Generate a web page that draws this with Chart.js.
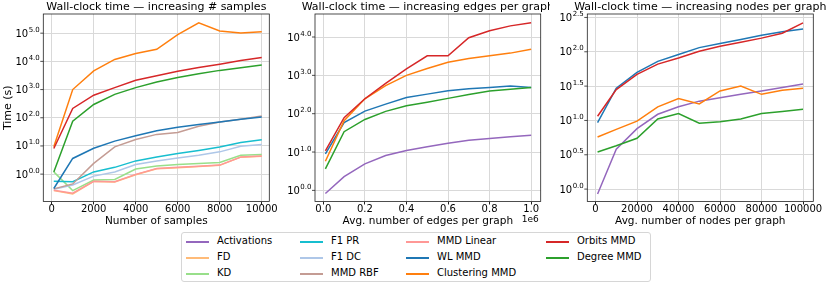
<!DOCTYPE html>
<html>
<head>
<meta charset="utf-8">
<script src="https://cdn.jsdelivr.net/npm/chart.js@4/dist/chart.umd.min.js"></script>
<style>
  html, body { margin: 0; padding: 0; background: #fff; }
  body { width: 830px; height: 287px; position: relative; overflow: hidden; font-family: "DejaVu Sans", sans-serif; }
  canvas { position: absolute; top: 0; }
  #legend { position: absolute; left: 181px; top: 232px; width: 470px; height: 50px; box-sizing: border-box;
            border: 1px solid #d6d6d6; border-radius: 3px; background: #fff; }
  .item { position: absolute; font-size: 10px; color: #000; white-space: nowrap; }
  .swatch { position: absolute; width: 23px; height: 2px; }
</style>
</head>
<body>
<canvas id="c1" width="280" height="230" style="left:0px"></canvas>
<canvas id="c2" width="278" height="230" style="left:272px"></canvas>
<canvas id="c3" width="285" height="230" style="left:545px"></canvas>
<div id="legend"></div>
<script>
// Series names and colours (legend order)
const seriesNames = ['Activations', 'FD', 'KD', 'F1 PR', 'F1 DC', 'MMD RBF', 'MMD Linear',
                     'WL MMD', 'Clustering MMD', 'Orbits MMD', 'Degree MMD'];
const seriesColors = ['#9467bd', '#ffbb78', '#98df8a', '#17becf', '#aec7e8', '#c49c94', '#ff9896',
                      '#1f77b4', '#ff7f0e', '#d62728', '#2ca02c'];

// Panel 1: increasing # samples (time in seconds)
const samplesX = [100, 1000, 2000, 3000, 4000, 5000, 6000, 7000, 8000, 9000, 10000];
const samplesFD = [0.26, 0.20, 0.55, 0.53, 0.95, 1.55, 1.70, 1.88, 2.05, 4.0, 4.3];
const samplesKD = [1.2, 0.26, 0.62, 0.65, 1.51, 1.95, 2.19, 2.40, 2.57, 4.68, 5.01];
const samplesF1PR = [0.56, 0.54, 1.2, 1.74, 2.95, 4.07, 5.37, 6.92, 9.12, 13.2, 16.6];
const samplesF1DC = [0.29, 0.41, 0.85, 1.2, 2.19, 2.95, 3.72, 4.68, 6.17, 9.77, 11.2];
const samplesRBF = [0.30, 0.45, 2.4, 9.3, 17.0, 25.7, 30.2, 50.1, 70.8, 89.1, 115];
const samplesLinear = [0.27, 0.21, 0.56, 0.54, 0.98, 1.58, 1.74, 1.91, 2.09, 4.07, 4.37];
const samplesWL = [0.31, 3.6, 8.3, 14.8, 22.9, 34.7, 45.7, 57.5, 70.8, 89.1, 107];
const samplesClustering = [9.3, 1000, 4570, 11700, 19000, 26900, 89000, 234000, 120000, 102000, 112000];
const samplesOrbits = [8.1, 214, 631, 1170, 2140, 3090, 4470, 6030, 7940, 10700, 13800];
const samplesDegree = [1.2, 76, 295, 676, 1170, 1860, 2690, 3630, 4790, 5890, 7410];

// Panel 2: increasing edges per graph
const edgesX = [0.01e6, 0.1e6, 0.2e6, 0.3e6, 0.4e6, 0.5e6, 0.6e6, 0.7e6, 0.8e6, 0.9e6, 1.0e6];
const edgesActivations = [0.83, 2.29, 4.9, 8.1, 11.0, 13.8, 17.0, 20.4, 22.4, 25.1, 27.5];
const edgesWL = [8.9, 58.9, 117, 178, 263, 324, 398, 447, 479, 525, 479];
const edgesClustering = [5.75, 66, 245, 537, 1000, 1510, 2190, 2750, 3240, 3800, 4790];
const edgesOrbits = [10.7, 79, 245, 617, 1480, 3240, 3240, 9550, 14500, 19500, 23400];
const edgesDegree = [3.63, 33.9, 70.8, 115, 162, 200, 251, 316, 389, 437, 479];

// Panel 3: increasing nodes per graph
const nodesX = [1000, 10000, 20000, 30000, 40000, 50000, 60000, 70000, 80000, 90000, 100000];
const nodesActivations = [0.85, 3.8, 7.59, 12.3, 15.8, 19.1, 21.4, 24.0, 26.9, 30.2, 33.9];
const nodesWL = [9.3, 29.5, 50.1, 72.4, 91.2, 115, 132, 151, 174, 195, 214];
const nodesClustering = [5.75, 7.41, 9.77, 15.8, 20.9, 17.4, 26.9, 31.6, 24.0, 27.5, 29.5];
const nodesOrbits = [11.5, 28.2, 46.8, 66.1, 81.3, 102, 120, 138, 158, 186, 263];
const nodesDegree = [3.47, 4.27, 5.5, 10.5, 12.6, 9.12, 9.55, 10.5, 12.6, 13.5, 14.5];

// Tick positions
const xTicks1 = [0, 2000, 4000, 6000, 8000, 10000];
const xTicks2 = [0, 0.2e6, 0.4e6, 0.6e6, 0.8e6, 1.0e6];
const xTicks3 = [0, 20000, 40000, 60000, 80000, 100000];
const yExp1 = [0, 1, 2, 3, 4, 5];
const yExp2 = [0, 1, 2, 3, 4];
const yExp3 = [0, 0.5, 1, 1.5, 2, 2.5];

const FONT = '"DejaVu Sans", sans-serif';

function makeDatasets(xs, seriesMap) {
    const out = [];
    seriesNames.forEach((name, i) => {
        if (!seriesMap[name]) return;
        out.push({
            label: name,
            data: xs.map((x, k) => ({ x: x, y: seriesMap[name][k] })),
            borderColor: seriesColors[i],
            backgroundColor: seriesColors[i],
            borderWidth: 1.5,
            pointRadius: 0,
            tension: 0,
            order: -i
        });
    });
    return out;
}

// decorations drawn like matplotlib: frame, title, superscript log labels
const decoPlugin = {
    id: 'deco',
    afterDraw(chart) {
        const o = chart.options.plugins.deco;
        const ctx = chart.ctx;
        const a = chart.chartArea;
        const ys = chart.scales.y;
        ctx.save();
        ctx.strokeStyle = '#222';
        ctx.lineWidth = 0.8;
        ctx.strokeRect(a.left, a.top, a.right - a.left, a.bottom - a.top);

        ctx.fillStyle = '#000';
        ctx.font = '11px ' + FONT;
        ctx.textAlign = 'center';
        ctx.textBaseline = 'middle';
        ctx.fillText(o.title, (a.left + a.right) / 2, 7);

        ctx.font = '10.5px ' + FONT;
        ctx.fillText(o.xTitle, (a.left + a.right) / 2, 221.5);
        if (o.offsetText) {
            ctx.font = '9px ' + FONT;
            ctx.textAlign = 'right';
            ctx.fillText(o.offsetText, a.right - 2, 219.5);
        }
        if (o.yTitle) {
            ctx.save();
            ctx.translate(8, (a.top + a.bottom) / 2);
            ctx.rotate(-Math.PI / 2);
            ctx.font = '11px ' + FONT;
            ctx.textAlign = 'center';
            ctx.fillText(o.yTitle, 0, 0);
            ctx.restore();
        }

        // y tick labels: 10^{e.e}
        o.yExp.forEach(e => {
            const py = ys.getPixelForValue(Math.pow(10, e));
            const sup = e.toFixed(1);
            ctx.font = '7px ' + FONT;
            const wSup = ctx.measureText(sup).width;
            ctx.textAlign = 'right';
            ctx.textBaseline = 'alphabetic';
            const right = a.left - 3.5;
            ctx.fillText(sup, right, py - 1.5);
            ctx.font = '10px ' + FONT;
            ctx.fillText('10', right - wSup - 0.5, py + 3.5);
            // tick mark
            ctx.strokeStyle = '#222';
            ctx.lineWidth = 0.8;
            ctx.beginPath();
            ctx.moveTo(a.left - 3, py);
            ctx.lineTo(a.left, py);
            ctx.stroke();
        });
        ctx.restore();
    }
};

function makeChart(id, datasets, cfg) {
    const canvas = document.getElementById(id);
    const w = canvas.width;
    return new Chart(canvas, {
        type: 'line',
        data: { datasets: datasets },
        plugins: [decoPlugin],
        options: {
            responsive: false,
            animation: false,
            devicePixelRatio: 1,
            layout: { padding: { top: 14, right: w - cfg.areaRight, left: 0, bottom: 0 } },
            plugins: {
                legend: { display: false },
                tooltip: { enabled: false },
                deco: cfg.deco
            },
            scales: {
                x: {
                    type: 'linear',
                    min: cfg.xMin,
                    max: cfg.xMax,
                    afterBuildTicks: s => { s.ticks = cfg.xTicks.map(v => ({ value: v })); },
                    afterFit: s => { s.height = 28.5; },
                    grid: { color: '#d9d9d9', lineWidth: 1, tickLength: 3, tickColor: '#222', drawTicks: true },
                    border: { display: false },
                    ticks: {
                        color: '#000',
                        font: { family: FONT, size: 10 },
                        padding: -1,
                        maxRotation: 0,
                        autoSkip: false,
                        callback: cfg.xFormat
                    }
                },
                y: {
                    type: 'logarithmic',
                    min: cfg.yMin,
                    max: cfg.yMax,
                    afterBuildTicks: s => { s.ticks = cfg.deco.yExp.map(e => ({ value: Math.pow(10, e) })); },
                    afterFit: s => { s.width = cfg.areaLeft; },
                    grid: { color: '#d9d9d9', lineWidth: 1, drawTicks: false },
                    border: { display: false },
                    ticks: { display: false }
                }
            }
        }
    });
}

makeChart('c1', makeDatasets(samplesX, {
    'FD': samplesFD, 'KD': samplesKD, 'F1 PR': samplesF1PR, 'F1 DC': samplesF1DC,
    'MMD RBF': samplesRBF, 'MMD Linear': samplesLinear, 'WL MMD': samplesWL,
    'Clustering MMD': samplesClustering, 'Orbits MMD': samplesOrbits, 'Degree MMD': samplesDegree
}), {
    areaLeft: 43.3, areaRight: 269.3, xMin: -400, xMax: 10360, yMin: 0.107, yMax: 479000,
    xTicks: xTicks1, xFormat: v => String(v),
    deco: { title: 'Wall-clock time \u2014 increasing # samples', xTitle: 'Number of samples', yTitle: 'Time (s)', yExp: yExp1 }
});

makeChart('c2', makeDatasets(edgesX, {
    'Activations': edgesActivations, 'WL MMD': edgesWL, 'Clustering MMD': edgesClustering,
    'Orbits MMD': edgesOrbits, 'Degree MMD': edgesDegree
}), {
    areaLeft: 43, areaRight: 268.7, xMin: -0.04e6, xMax: 1.046e6, yMin: 0.513, yMax: 39800,
    xTicks: xTicks2, xFormat: v => (v / 1e6).toFixed(1),
    deco: { title: 'Wall-clock time \u2014 increasing edges per graph', xTitle: 'Avg. number of edges per graph', offsetText: '1e6', yExp: yExp2 }
});

makeChart('c3', makeDatasets(nodesX, {
    'Activations': nodesActivations, 'WL MMD': nodesWL, 'Clustering MMD': nodesClustering,
    'Orbits MMD': nodesOrbits, 'Degree MMD': nodesDegree
}), {
    areaLeft: 42.3, areaRight: 268.3, xMin: -3950, xMax: 104950, yMin: 0.66, yMax: 355,
    xTicks: xTicks3, xFormat: v => String(v),
    deco: { title: 'Wall-clock time \u2014 increasing nodes per graph', xTitle: 'Avg. number of nodes per graph', yExp: yExp3 }
});

// Legend (4 columns, 3 rows, column-major like matplotlib)
const legend = document.getElementById('legend');
const colX = [4, 118, 224, 364];
const rowY = [8.5, 24.5, 40.5];
seriesNames.forEach((name, i) => {
    const c = Math.floor(i / 3), r = i % 3;
    const sw = document.createElement('div');
    sw.className = 'swatch';
    sw.style.left = colX[c] + 'px';
    sw.style.top = (rowY[r] - 1) + 'px';
    sw.style.backgroundColor = seriesColors[i];
    legend.appendChild(sw);
    const t = document.createElement('div');
    t.className = 'item';
    t.textContent = name;
    t.style.left = (colX[c] + 31) + 'px';
    t.style.top = (rowY[r] - 7) + 'px';
    legend.appendChild(t);
});
</script>
</body>
</html>
